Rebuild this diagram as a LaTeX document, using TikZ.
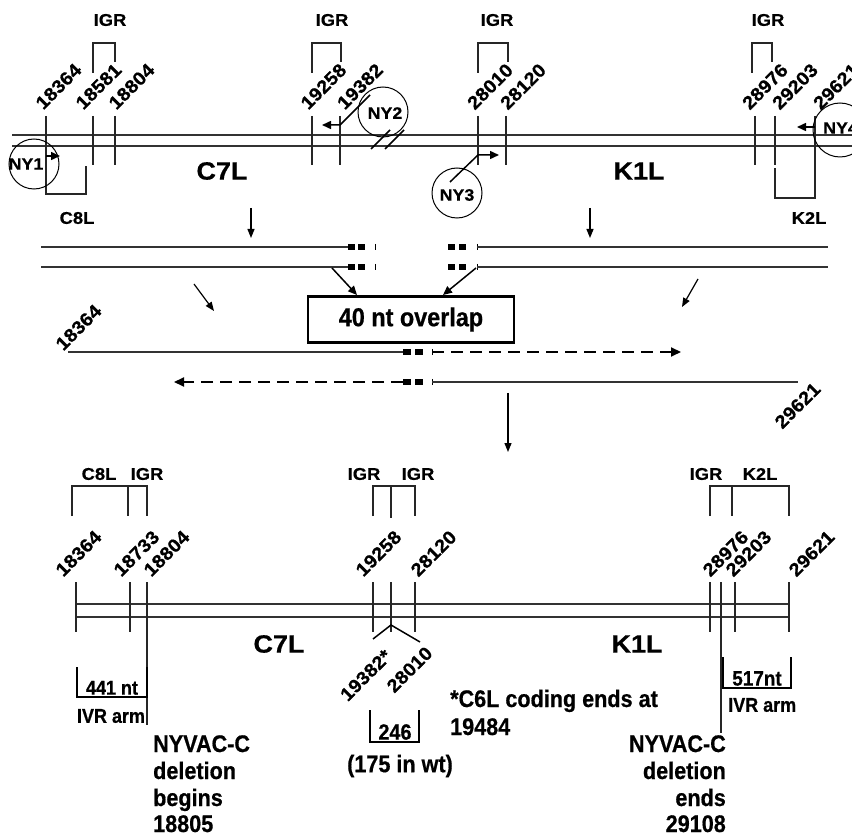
\documentclass[tikz,border=0pt]{standalone}
\usepackage{fontspec}
\setmainfont{Liberation Sans}[FakeStretch=1.08, BoldFeatures={FakeBold=0.6}]
\newfontfamily\condf{Liberation Sans}[FakeStretch=0.9, BoldFeatures={FakeBold=0.6}]
\usetikzlibrary{arrows.meta}
\begin{document}
\begin{tikzpicture}[x=1pt,y=-1pt,
  every node/.style={font=\bfseries, inner sep=0pt},
  gl/.style={line width=1.3pt, draw=black!80},
  tk/.style={line width=1.2pt, draw=black!85},
  br/.style={line width=1.2pt, draw=black!85},
  thickbr/.style={line width=2pt, draw=black},
  num/.style={font=\bfseries\fontsize{18.5}{20}\selectfont, rotate=45, anchor=south west},
  numd/.style={font=\bfseries\fontsize{18.5}{20}\selectfont, rotate=45, anchor=north east},
  lbl/.style={font=\bfseries\fontsize{17}{20}\selectfont},
  nyl/.style={font=\bfseries\fontsize{16.5}{18}\selectfont},
  big/.style={font=\bfseries\fontsize{25}{28}\selectfont},
  txt/.style={font=\condf\bfseries\fontsize{24}{27}\selectfont},
  arr/.style={line width=1.5pt, -{Triangle[length=9pt,width=8pt]}},
  tarr/.style={line width=1.2pt, -{Triangle[length=9pt,width=7pt]}},
  darr/.style={line width=2pt, dash pattern=on 12pt off 7pt, -{Triangle[length=10pt,width=9pt]}},
  ring/.style={draw, circle, line width=1pt, minimum size=50pt},
  sq/.style={fill=black},
]
\useasboundingbox (0,0) rectangle (852,834);
\clip (0,0) rectangle (852,834);

%% ---------- top genome ----------
\draw[gl] (12,135) -- (852,135);
\draw[gl] (12,146) -- (852,146);
\foreach \x in {46,93,115,312,340,478,506,755,775}
  \draw[tk] (\x,116) -- (\x,165);
\draw[tk] (815,116) -- (815,198) -- (775,198) -- (775,168);
\draw[br] (46,165) -- (46,194) -- (86,194) -- (86,166);
% IGR brackets
\draw[br] (93,73) -- (93,43) -- (115,43) -- (115,62);
\draw[br] (312,73) -- (312,43) -- (341,43) -- (341,62);
\draw[br] (478,73) -- (478,43) -- (508,43) -- (508,62);
\draw[br] (752,73) -- (752,43) -- (772,43) -- (772,62);
\node[lbl] (igr1) at (110,20) {IGR};
\node[lbl] (igr2) at (332,20) {IGR};
\node[lbl] (igr3) at (497,20) {IGR};
\node[lbl] (igr4) at (768,20) {IGR};
% numbers
\node[num] (t1) at (43.5,111) {18364};
\node[num] (t2) at (83.5,111) {18581};
\node[num] (t3) at (116.5,111) {18804};
\node[num] (t4) at (308.5,111) {19258};
\node[num] (t5) at (345,111) {19382};
\node[num] (t6) at (475,111) {28010};
\node[num] (t7) at (508,111) {28120};
\node[num] (t8) at (750,111) {28976};
\node[num] (t9) at (780,111) {29203};
\node[num] (t10) at (821,111) {29621};
% gene names
\node[big] (c7l) at (222,171) {C7L};
\node[big] (k1l) at (639,171) {K1L};
\node[lbl] (c8l) at (77,218) {C8L};
\node[lbl] (k2l) at (809,218) {K2L};
% NY circles
\node[ring] (ny1) at (34,164) {};
\node[nyl] (ny1t) at (26,164) {NY1};
\draw[arr] (46,156) -- (60,156);
\node[ring] (ny2) at (383,112) {};
\node[nyl] (ny2t) at (385,113) {NY2};
\draw[arr] (370,95) -- (340,125) -- (322,125);
\draw[line width=1.5pt] (371,149) -- (390,130);
\draw[line width=1.5pt] (385,149) -- (404,130);
\node[ring] (ny3) at (457,193) {};
\node[nyl] (ny3t) at (457,195) {NY3};
\draw[arr] (450,182) -- (478,155) -- (499,155);
\node[ring, minimum size=54pt] (ny4) at (840,130) {};
\node[nyl, anchor=west] (ny4t) at (823,128) {NY4};
\draw[arr] (815,127) -- (797,127);

%% ---------- middle ----------
\draw[tarr] (251,208) -- (251,238);
\draw[tarr] (590,208) -- (590,238);
\foreach \y in {247,267} {
  \draw[gl] (41,\y) -- (348,\y);
  \fill[sq] (348,\y-3) rectangle (355,\y+3);
  \fill[sq] (358,\y-3) rectangle (365,\y+3);
  \draw[line width=1pt] (375,\y-3) -- (375,\y+3);
  \fill[sq] (448,\y-3) rectangle (455,\y+3);
  \fill[sq] (459,\y-3) rectangle (466,\y+3);
  \draw[line width=1pt] (477,\y-3) -- (477,\y+3);
  \draw[gl] (477,\y) -- (828,\y);
}
\node[draw, line width=2.5pt, minimum width=206pt, minimum height=46pt,
      font=\condf\bfseries\fontsize{26}{28}\selectfont] (box) at (411,319.5) {40 nt overlap};
\draw[arr] (332,268) -- (357,295);
\draw[arr] (476,268) -- (443,295);
\draw[tarr] (194,284) -- (214,311);
\draw[tarr] (698,279) -- (682,307);
% fragment 1
\draw[gl] (68,352) -- (403,352);
\fill[sq] (403,349) rectangle (411,355);
\fill[sq] (415,349) rectangle (423,355);
\draw[line width=1pt] (432,349) -- (432,355);
\draw[darr] (432,352) -- (681,352);
\node[num] (m1) at (63.5,352) {18364};
% fragment 2
\draw[darr] (403,382) -- (174,382);
\fill[sq] (403,379) rectangle (411,385);
\fill[sq] (415,379) rectangle (423,385);
\draw[line width=1pt] (432,379) -- (432,385);
\draw[gl] (432,382) -- (798,382);
\node[numd] (m2) at (812.5,381) {29621};
\draw[tarr] (508,393) -- (508,452);

%% ---------- bottom genome ----------
\draw[gl] (76,604) -- (789,604);
\draw[gl] (76,617) -- (789,617);
\foreach \x in {76,130,373,391,415,710,735,789}
  \draw[tk] (\x,582) -- (\x,632);
\draw[tk] (147,582) -- (147,725);
\draw[tk] (721,582) -- (721,733);
\draw[br] (72,516) -- (72,486) -- (147,486) -- (147,516);
\draw[br] (128,486) -- (128,516);
\draw[br] (373,516) -- (373,486) -- (415,486) -- (415,516);
\draw[br] (391,486) -- (391,518);
\draw[br] (710,516) -- (710,486) -- (789,486) -- (789,516);
\draw[br] (732,486) -- (732,516);
\node[lbl] (bc8l) at (99,474) {C8L};
\node[lbl] (bigr1) at (147,474) {IGR};
\node[lbl] (bigr2) at (364,474) {IGR};
\node[lbl] (bigr3) at (418,474) {IGR};
\node[lbl] (bigr4) at (706,474) {IGR};
\node[lbl] (bk2l) at (760,474) {K2L};
\node[num] (b1) at (63.5,578) {18364};
\node[num] (b2) at (121.5,578) {18733};
\node[num] (b3) at (151.5,578) {18804};
\node[num] (b4) at (363.5,578) {19258};
\node[num] (b5) at (418.5,578) {28120};
\node[num] (b6) at (710.5,578) {28976};
\node[num] (b7) at (733.5,578) {29203};
\node[num] (b8) at (796.5,578) {29621};
\draw[line width=1.5pt] (373,639) -- (391,625) -- (420,642);
\node[numd] (b9) at (383.5,648) {19382*};
\node[numd] (b10) at (424.5,645) {28010};
\node[big] (bc7l) at (279,644) {C7L};
\node[big] (bk1l) at (637,644) {K1L};
% 441 nt
\draw[thickbr] (77,667) -- (77,697) -- (147,697) -- (147,667);
\node[lbl, anchor=south, font=\condf\bfseries\fontsize{20}{22}\selectfont] (n441) at (112,695) {441 nt};
\node[lbl, font=\condf\bfseries\fontsize{20}{22}\selectfont] (ivr1) at (111,716) {IVR arm};
\node[txt, anchor=base west] (l1) at (153,752) {NYVAC-C};
\node[txt, anchor=base west] (l2) at (153,779) {deletion};
\node[txt, anchor=base west] (l3) at (153,806) {begins};
\node[txt, anchor=base west] (l4) at (153,832) {18805};
% 246
\draw[thickbr] (370,710) -- (370,742) -- (419,742) -- (419,710);
\node[anchor=south, font=\condf\bfseries\fontsize{22}{24}\selectfont] (n246) at (395,740) {246};
\node[txt] (wt) at (400,766) {(175 in wt)};
\node[txt, anchor=base west] (c6a) at (450,707) {*C6L coding ends at};
\node[txt, anchor=base west] (c6b) at (450,735) {19484};
% 517nt
\draw[thickbr] (723,657) -- (723,688) -- (791,688) -- (791,657);
\node[anchor=south, font=\condf\bfseries\fontsize{21}{22}\selectfont] (n517) at (757,686) {517nt};
\node[anchor=west, font=\condf\bfseries\fontsize{20}{22}\selectfont] (ivr2) at (728,705) {IVR arm};
\node[txt, anchor=base east] (r1) at (726,752) {NYVAC-C};
\node[txt, anchor=base east] (r2) at (726,779) {deletion};
\node[txt, anchor=base east] (r3) at (726,806) {ends};
\node[txt, anchor=base east] (r4) at (726,832) {29108};
\end{tikzpicture}
\end{document}
